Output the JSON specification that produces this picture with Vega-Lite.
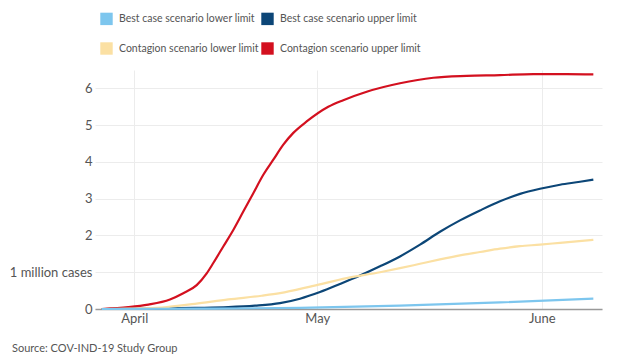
{
  "$schema": "https://vega.github.io/schema/vega-lite/v6.json",
  "autosize": "none",
  "width": 507,
  "height": 239,
  "padding": {"left": 95, "top": 70, "right": 28, "bottom": 45},
  "background": "white",
  "config": {
    "font": "Lato",
    "view": {"stroke": null}
  },
  "title": {
    "text": "Source: COV-IND-19 Study Group",
    "orient": "bottom",
    "anchor": "start",
    "frame": "group",
    "dx": -83,
    "offset": 18,
    "fontSize": 11,
    "fontWeight": "normal",
    "color": "#555555",
    "font": "Lato"
  },
  "data": {
    "values": [
      {"series": "Contagion scenario upper limit", "t": -5.34, "v": 0},
      {"series": "Contagion scenario upper limit", "t": -0.98, "v": 0.05},
      {"series": "Contagion scenario upper limit", "t": 2.3, "v": 0.12},
      {"series": "Contagion scenario upper limit", "t": 5.85, "v": 0.26},
      {"series": "Contagion scenario upper limit", "t": 8.03, "v": 0.43},
      {"series": "Contagion scenario upper limit", "t": 10.23, "v": 0.65},
      {"series": "Contagion scenario upper limit", "t": 11.87, "v": 0.97},
      {"series": "Contagion scenario upper limit", "t": 12.95, "v": 1.25},
      {"series": "Contagion scenario upper limit", "t": 14.59, "v": 1.7},
      {"series": "Contagion scenario upper limit", "t": 16.23, "v": 2.15},
      {"series": "Contagion scenario upper limit", "t": 17.87, "v": 2.65},
      {"series": "Contagion scenario upper limit", "t": 19.51, "v": 3.15},
      {"series": "Contagion scenario upper limit", "t": 21.15, "v": 3.65},
      {"series": "Contagion scenario upper limit", "t": 22.79, "v": 4.06},
      {"series": "Contagion scenario upper limit", "t": 24.43, "v": 4.47},
      {"series": "Contagion scenario upper limit", "t": 26.07, "v": 4.79},
      {"series": "Contagion scenario upper limit", "t": 28.26, "v": 5.1},
      {"series": "Contagion scenario upper limit", "t": 31.8, "v": 5.5},
      {"series": "Contagion scenario upper limit", "t": 34.26, "v": 5.68},
      {"series": "Contagion scenario upper limit", "t": 38.1, "v": 5.91},
      {"series": "Contagion scenario upper limit", "t": 43.56, "v": 6.14},
      {"series": "Contagion scenario upper limit", "t": 49.02, "v": 6.29},
      {"series": "Contagion scenario upper limit", "t": 54.49, "v": 6.34},
      {"series": "Contagion scenario upper limit", "t": 59.95, "v": 6.36},
      {"series": "Contagion scenario upper limit", "t": 65.41, "v": 6.39},
      {"series": "Contagion scenario upper limit", "t": 70.89, "v": 6.39},
      {"series": "Contagion scenario upper limit", "t": 75.25, "v": 6.38},

      {"series": "Best case scenario upper limit", "t": -5.34, "v": 0},
      {"series": "Best case scenario upper limit", "t": 2.57, "v": 0.01},
      {"series": "Best case scenario upper limit", "t": 9.95, "v": 0.03},
      {"series": "Best case scenario upper limit", "t": 15.41, "v": 0.05},
      {"series": "Best case scenario upper limit", "t": 19.79, "v": 0.09},
      {"series": "Best case scenario upper limit", "t": 23.89, "v": 0.16},
      {"series": "Best case scenario upper limit", "t": 27.16, "v": 0.28},
      {"series": "Best case scenario upper limit", "t": 30.44, "v": 0.46},
      {"series": "Best case scenario upper limit", "t": 33.72, "v": 0.68},
      {"series": "Best case scenario upper limit", "t": 37.0, "v": 0.91},
      {"series": "Best case scenario upper limit", "t": 40.28, "v": 1.16},
      {"series": "Best case scenario upper limit", "t": 43.56, "v": 1.43},
      {"series": "Best case scenario upper limit", "t": 46.84, "v": 1.75},
      {"series": "Best case scenario upper limit", "t": 50.11, "v": 2.1},
      {"series": "Best case scenario upper limit", "t": 53.39, "v": 2.41},
      {"series": "Best case scenario upper limit", "t": 56.67, "v": 2.68},
      {"series": "Best case scenario upper limit", "t": 59.95, "v": 2.93},
      {"series": "Best case scenario upper limit", "t": 63.23, "v": 3.13},
      {"series": "Best case scenario upper limit", "t": 66.51, "v": 3.27},
      {"series": "Best case scenario upper limit", "t": 69.79, "v": 3.38},
      {"series": "Best case scenario upper limit", "t": 73.07, "v": 3.46},
      {"series": "Best case scenario upper limit", "t": 75.25, "v": 3.52},

      {"series": "Contagion scenario lower limit", "t": -5.34, "v": 0},
      {"series": "Contagion scenario lower limit", "t": -0.7, "v": 0.01},
      {"series": "Contagion scenario lower limit", "t": 4.49, "v": 0.04},
      {"series": "Contagion scenario lower limit", "t": 9.95, "v": 0.14},
      {"series": "Contagion scenario lower limit", "t": 15.41, "v": 0.26},
      {"series": "Contagion scenario lower limit", "t": 20.89, "v": 0.36},
      {"series": "Contagion scenario lower limit", "t": 23.89, "v": 0.43},
      {"series": "Contagion scenario lower limit", "t": 29.34, "v": 0.63},
      {"series": "Contagion scenario lower limit", "t": 34.82, "v": 0.84},
      {"series": "Contagion scenario lower limit", "t": 40.28, "v": 1.0},
      {"series": "Contagion scenario lower limit", "t": 43.56, "v": 1.11},
      {"series": "Contagion scenario lower limit", "t": 46.84, "v": 1.23},
      {"series": "Contagion scenario lower limit", "t": 50.11, "v": 1.35},
      {"series": "Contagion scenario lower limit", "t": 53.39, "v": 1.46},
      {"series": "Contagion scenario lower limit", "t": 56.67, "v": 1.55},
      {"series": "Contagion scenario lower limit", "t": 59.95, "v": 1.64},
      {"series": "Contagion scenario lower limit", "t": 63.23, "v": 1.71},
      {"series": "Contagion scenario lower limit", "t": 66.51, "v": 1.75},
      {"series": "Contagion scenario lower limit", "t": 69.79, "v": 1.8},
      {"series": "Contagion scenario lower limit", "t": 75.25, "v": 1.88},

      {"series": "Best case scenario lower limit", "t": -5.34, "v": 0},
      {"series": "Best case scenario lower limit", "t": 10.77, "v": 0.01},
      {"series": "Best case scenario lower limit", "t": 27.16, "v": 0.03},
      {"series": "Best case scenario lower limit", "t": 43.56, "v": 0.09},
      {"series": "Best case scenario lower limit", "t": 59.95, "v": 0.18},
      {"series": "Best case scenario lower limit", "t": 75.25, "v": 0.28}
    ]
  },
  "mark": {"type": "line", "interpolate": "monotone", "strokeWidth": 2.2},
  "encoding": {
    "x": {
      "field": "t",
      "type": "quantitative",
      "scale": {"domain": [-6.44, 76.67], "nice": false, "zero": false},
      "axis": {
        "title": null,
        "values": [0, 30, 66.8],
        "labelExpr": "datum.value == 0 ? 'April' : datum.value == 30 ? 'May' : 'June'",
        "ticks": false,
        "domainColor": "#999999",
        "domainWidth": 1.5,
        "gridColor": "#ececec",
        "labelColor": "#555555",
        "labelFontSize": 13,
        "labelPadding": 3,
        "labelFlush": false
      }
    },
    "y": {
      "field": "v",
      "type": "quantitative",
      "scale": {"domain": [0, 6.5], "nice": false},
      "axis": {
        "title": null,
        "values": [0, 1, 2, 3, 4, 5, 6],
        "labelExpr": "datum.value == 1 ? '1 million cases' : datum.label",
        "ticks": false,
        "domain": false,
        "gridColor": "#ececec",
        "labelColor": "#555555",
        "labelFontSize": 13,
        "labelPadding": 3
      }
    },
    "color": {
      "field": "series",
      "type": "nominal",
      "scale": {
        "domain": ["Best case scenario lower limit", "Best case scenario upper limit", "Contagion scenario lower limit", "Contagion scenario upper limit"],
        "range": ["#7dc6ee", "#0c4677", "#fbe0a3", "#d3101f"]
      },
      "legend": {
        "title": null,
        "orient": "none",
        "legendX": 5,
        "legendY": -58,
        "columns": 2,
        "direction": "horizontal",
        "symbolType": "square",
        "symbolSize": 2,
        "symbolStrokeWidth": 11,
        "labelFont": "Lato",
        "labelFontSize": 10.5,
        "labelColor": "#555555",
        "labelLimit": 300,
        "columnPadding": -15,
        "rowPadding": -19,
        "labelOffset": 6
      }
    }
  }
}
